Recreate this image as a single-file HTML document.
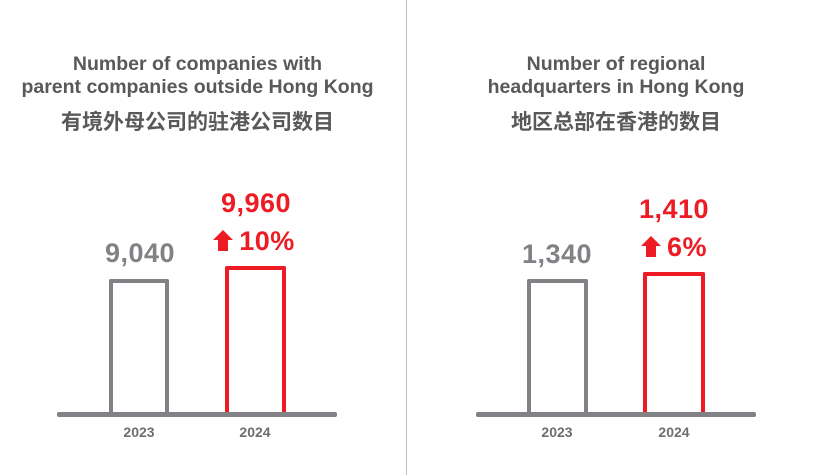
<!DOCTYPE html>
<html><head><meta charset="utf-8"><style>
body{margin:0;width:816px;height:475px;background:#fff;position:relative;overflow:hidden;font-family:"Liberation Sans","Noto Sans CJK SC",sans-serif;}
.a{position:absolute;}
.t{position:absolute;text-align:center;font-weight:bold;color:#58595b;font-size:19.5px;line-height:23px;}
.c{position:absolute;text-align:center;font-weight:bold;color:#58595b;font-size:21px;}
.n{position:absolute;text-align:center;font-weight:bold;font-size:27px;line-height:30px;letter-spacing:0.5px}
.y{position:absolute;text-align:center;font-weight:bold;color:#6d6e71;font-size:14px;width:60px;}
.g{color:#808285}.r{color:#ed1c24}
.bar{position:absolute;box-sizing:border-box;border:4px solid;border-bottom:none;border-radius:2px 2px 0 0}
.base{position:absolute;height:5px;background:#808285;border-radius:2px}
.ar{display:inline-block;vertical-align:middle;margin-right:6px;width:20px;height:21px;position:relative;top:-2px}
.ar i{position:absolute;left:0;top:0;border-left:10px solid transparent;border-right:10px solid transparent;border-bottom:10px solid #ed1c24}
.ar b{position:absolute;left:5px;top:9px;width:10px;height:12px;background:#ed1c24}
</style></head><body>
<div class="a" style="left:406px;top:0;width:1px;height:475px;background:#bcbec0"></div>

<div class="t" style="left:0;width:395px;top:53px">Number of companies with<br>parent companies outside Hong Kong</div>
<div class="c" style="left:0;width:395px;top:106px">有境外母公司的驻港公司数目</div>
<div class="n r" style="left:196px;width:120px;top:188px">9,960</div>
<div class="n r" style="left:194px;width:120px;top:226px"><span class="ar"><i></i><b></b></span>10%</div>
<div class="n g" style="left:80px;width:120px;top:238px">9,040</div>
<div class="bar" style="left:109px;top:279px;width:60px;height:135px;border-color:#808285"></div>
<div class="bar" style="left:225px;top:266px;width:61px;height:148px;border-color:#ed1c24"></div>
<div class="base" style="left:57px;top:412px;width:280px"></div>
<div class="y" style="left:109px;top:424px">2023</div>
<div class="y" style="left:225px;top:424px">2024</div>

<div class="t" style="left:416px;width:400px;top:53px">Number of regional<br>headquarters in Hong Kong</div>
<div class="c" style="left:416px;width:400px;top:106px">地区总部在香港的数目</div>
<div class="n r" style="left:614px;width:120px;top:194px">1,410</div>
<div class="n r" style="left:614px;width:120px;top:232px"><span class="ar"><i></i><b></b></span>6%</div>
<div class="n g" style="left:497px;width:120px;top:239px">1,340</div>
<div class="bar" style="left:527px;top:279px;width:61px;height:135px;border-color:#808285"></div>
<div class="bar" style="left:643px;top:272px;width:62px;height:142px;border-color:#ed1c24"></div>
<div class="base" style="left:476px;top:412px;width:280px"></div>
<div class="y" style="left:527px;top:424px">2023</div>
<div class="y" style="left:644px;top:424px">2024</div>
</body></html>
